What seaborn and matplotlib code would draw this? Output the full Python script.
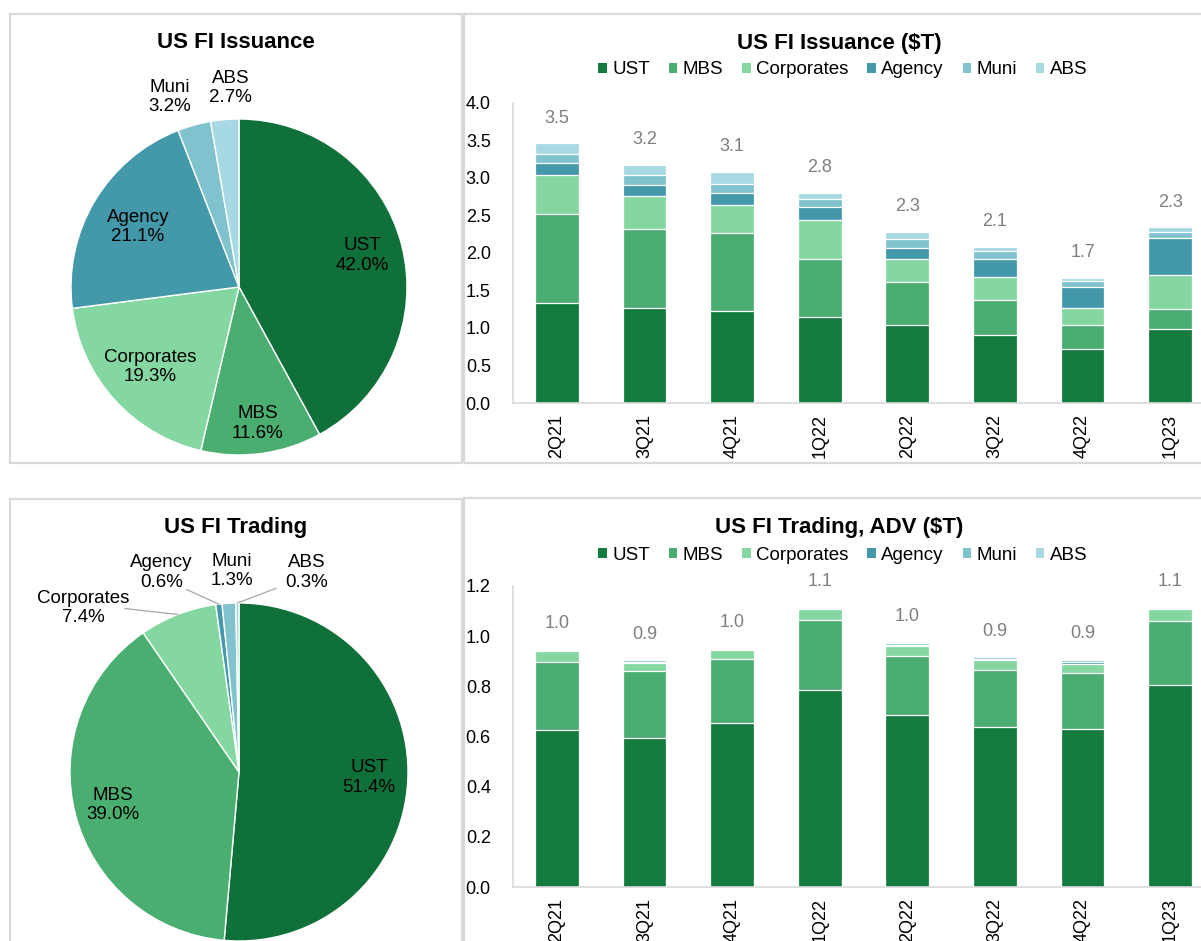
import numpy as np
import pandas as pd
import seaborn as sns
import matplotlib.pyplot as plt
from matplotlib.patches import Patch, Rectangle

quarters = ["2Q21", "3Q21", "4Q21", "1Q22", "2Q22", "3Q22", "4Q22", "1Q23"]
segments = ["UST", "MBS", "Corporates", "Agency", "Muni", "ABS"]

# issuance ($T) per quarter
iss_ust = [1.33, 1.27, 1.23, 1.14, 1.04, 0.91, 0.72, 0.98]
iss_mbs = [1.18, 1.04, 1.03, 0.78, 0.57, 0.46, 0.32, 0.27]
iss_corp = [0.52, 0.44, 0.38, 0.52, 0.31, 0.31, 0.23, 0.46]
iss_agency = [0.17, 0.15, 0.15, 0.17, 0.14, 0.24, 0.28, 0.49]
iss_muni = [0.12, 0.14, 0.12, 0.10, 0.12, 0.10, 0.08, 0.07]
iss_abs = [0.14, 0.13, 0.17, 0.09, 0.10, 0.06, 0.04, 0.07]
iss_totals = [3.5, 3.2, 3.1, 2.8, 2.3, 2.1, 1.7, 2.3]

# trading ADV ($T) per quarter
trd_ust = [0.625, 0.595, 0.655, 0.784, 0.685, 0.636, 0.628, 0.805]
trd_mbs = [0.274, 0.265, 0.253, 0.279, 0.234, 0.229, 0.225, 0.255]
trd_corp = [0.040, 0.033, 0.035, 0.044, 0.040, 0.038, 0.038, 0.047]
trd_agency = [0.004, 0.004, 0.004, 0.005, 0.006, 0.005, 0.006, 0.005]
trd_muni = [0.005, 0.006, 0.006, 0.006, 0.009, 0.007, 0.009, 0.006]
trd_abs = [0.002, 0.002, 0.002, 0.002, 0.003, 0.002, 0.003, 0.002]
trd_totals = [1.0, 0.9, 1.0, 1.1, 1.0, 0.9, 0.9, 1.1]

# pie shares (%)
iss_share = [42.0, 11.6, 19.3, 21.1, 3.2, 2.7]
trd_share = [51.4, 39.0, 7.4, 0.6, 1.3, 0.3]

bar_colors = ["#147B3E", "#4BAE71", "#85D7A2", "#4398A9", "#80C3CF", "#A7D9E2"]
pie_colors = ["#10703A", "#4BAE71", "#85D7A2", "#4398A9", "#80C3CF", "#A7D9E2"]

W, H = 1201, 941
BORDER = "#D9D9D9"


def fx(px):
    return px / W


def fy(py):
    return 1 - py / H


def stacked(ax, series, totals, ymax, step):
    df = pd.DataFrame(dict(zip(segments, series)), index=quarters)
    cum = df.cumsum(axis=1)
    # draw cumulative bars from the top segment down so they stack
    for seg, color in reversed(list(zip(segments, bar_colors))):
        sns.barplot(x=quarters, y=cum[seg].values, color=color, width=0.5,
                    saturation=1, edgecolor="white", linewidth=0.9,
                    errorbar=None, ax=ax)
    for i, (top, lab) in enumerate(zip(cum["ABS"].values, totals)):
        ax.annotate(f"{lab:.1f}", (i, top), xytext=(0, 18),
                    textcoords="offset points", ha="center", va="center",
                    color="#7F7F7F", fontsize=13, annotation_clip=False)
    ax.set_xlim(-0.5, len(quarters) - 0.5)
    ax.set_ylim(0, ymax)
    ax.set_yticks(np.arange(0, ymax + step / 2, step))
    ax.set_yticklabels([f"{t:.1f}" for t in ax.get_yticks()])
    ax.set_xticks(range(len(quarters)))
    ax.set_xticklabels(quarters, rotation=90)
    ax.set_xlabel("")
    ax.set_ylabel("")
    for s in ["top", "right"]:
        ax.spines[s].set_visible(False)
    for s in ["left", "bottom"]:
        ax.spines[s].set_color(BORDER)
        ax.spines[s].set_linewidth(1.2)
    ax.tick_params(axis="y", length=0, pad=16, labelsize=13, colors="black")
    ax.tick_params(axis="x", length=0, pad=8, labelsize=13, colors="black")


def pie(ax, shares, inner_r, outer_pos, leaders):
    wedges, _ = ax.pie(shares, colors=pie_colors, startangle=90,
                       counterclock=False,
                       wedgeprops=dict(edgecolor="white", linewidth=1))
    for i, w in enumerate(wedges):
        mid = np.deg2rad((w.theta1 + w.theta2) / 2)
        txt = f"{segments[i]}\n{shares[i]:.1f}%"
        if inner_r[i] is not None:
            pos = (inner_r[i] * np.cos(mid), inner_r[i] * np.sin(mid))
        else:
            pos = outer_pos[i]
        ax.text(pos[0], pos[1], txt, ha="center", va="center", fontsize=13.5,
                color="black", clip_on=False)
        if i in leaders:
            ex, ey = np.cos(mid), np.sin(mid)
            ax.plot([leaders[i][0], ex], [leaders[i][1], ey], color="#A6A6A6",
                    lw=0.9, clip_on=False)
    ax.set_xlim(-1, 1)
    ax.set_ylim(-1, 1)
    ax.set_aspect("equal")
    ax.axis("off")


def main():
    sns.set_style("white")
    plt.rcParams["font.family"] = ["Liberation Sans", "DejaVu Sans"]
    plt.rcParams["text.color"] = "black"

    fig = plt.figure(figsize=(W / 100, H / 100), dpi=100)

    # panel borders
    for (x0, y0, x1, y1) in [(10, 14, 462, 463), (464, 14, 1215, 463),
                             (10, 499, 462, 960), (464, 498, 1215, 960)]:
        fig.add_artist(Rectangle((fx(x0), fy(y1)), fx(x1 - x0), (y1 - y0) / H,
                                 transform=fig.transFigure, fill=False,
                                 edgecolor=BORDER, lw=1.6))

    # pies
    ax1 = fig.add_axes([fx(71), fy(455), fx(336), 336 / H])
    pie(ax1, iss_share, [0.76, 0.82, 0.71, 0.70, None, None],
        {4: (-0.41, 1.13), 5: (-0.05, 1.185)}, {})

    ax3 = fig.add_axes([fx(70), fy(941), fx(338), 338 / H])
    pie(ax3, trd_share, [0.77, 0.77, None, None, None, None],
        {2: (-0.92, 0.97), 3: (-0.46, 1.18), 4: (-0.04, 1.19), 5: (0.40, 1.18)},
        {2: (-0.675, 0.967), 3: (-0.31, 1.08), 5: (0.22, 1.087)})

    # stacked bars
    ax2 = fig.add_axes([fx(513), fy(403), fx(701), 300.5 / H])
    stacked(ax2, [iss_ust, iss_mbs, iss_corp, iss_agency, iss_muni, iss_abs],
            iss_totals, 4.0, 0.5)

    ax4 = fig.add_axes([fx(513), fy(887), fx(701), 301 / H])
    stacked(ax4, [trd_ust, trd_mbs, trd_corp, trd_agency, trd_muni, trd_abs],
            trd_totals, 1.2, 0.2)

    # titles
    fig.text(fx(236), fy(43), "US FI Issuance", ha="center", va="center",
             fontsize=16, fontweight="bold")
    fig.text(fx(236), fy(527), "US FI Trading", ha="center", va="center",
             fontsize=16, fontweight="bold")
    fig.text(fx(839), fy(43), "US FI Issuance ($T)", ha="center", va="center",
             fontsize=16, fontweight="bold")
    fig.text(fx(839), fy(528), "US FI Trading, ADV ($T)", ha="center",
             va="center", fontsize=16, fontweight="bold")

    handles = [Patch(facecolor=c, edgecolor="none") for c in bar_colors]
    for yy in [70, 555]:
        fig.legend(handles, segments, loc="center",
                   bbox_to_anchor=(fx(843), fy(yy)), ncol=6, frameon=False,
                   fontsize=13.5, handlelength=0.45, handleheight=0.45,
                   handletextpad=0.3, columnspacing=1.0, borderpad=0)

    fig.savefig("out.png", dpi=100)
    plt.close(fig)


if __name__ == "__main__":
    main()
